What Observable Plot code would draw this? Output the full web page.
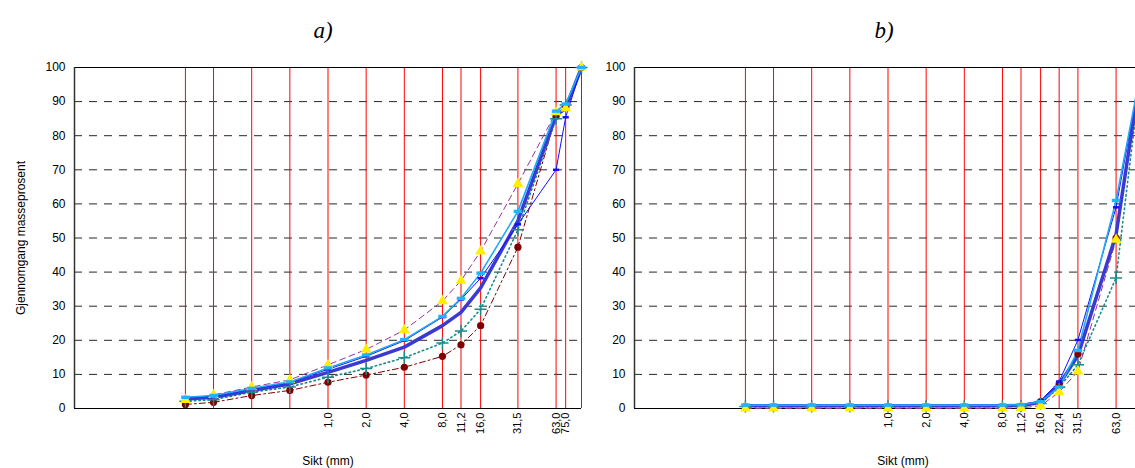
<!DOCTYPE html>
<html><head><meta charset="utf-8">
<script src="https://cdn.jsdelivr.net/npm/d3@7"></script>
<script src="https://cdn.jsdelivr.net/npm/@observablehq/plot@0.6"></script>
<style>
html,body{margin:0;padding:0;background:#fff;overflow:hidden;width:1135px;height:468px;}
#root{position:relative;width:1135px;height:468px;overflow:hidden;}
.ttl{position:absolute;font-family:"Liberation Serif","Times New Roman",serif;font-style:italic;font-size:23px;transform:translateX(-50%);line-height:1;}
.panel{position:absolute;top:55px;width:600px;height:413px;}
.panel svg{max-width:none !important;}
</style></head><body><div id="root">
<div class="ttl" style="left:323px;top:19px">a)</div>
<div class="ttl" style="left:884px;top:19px">b)</div>
<div class="panel" id="pa" style="left:0px"></div>
<div class="panel" id="pb" style="left:560px"></div>
</div>
<script>
// ---- data ----
const sieveA = [0.075, 0.125, 0.25, 0.5, 1, 2, 4, 8, 11.2, 16, 31.5, 63, 75, 100];
const ticksA = [1, 2, 4, 8, 11.2, 16, 31.5, 63, 75];
const a_thick  = [2.8, 3.3, 5.3, 7.2, 10.6, 14.1, 18.0, 24.3, 28.2, 35.4, 55.0, 86.0, 88.0, 100];
const a_thin   = [3.2, 3.6, 5.7, 7.6, 11.5, 15.3, 19.9, 26.8, 32.0, 38.2, 54.0, 70.0, 85.4, 100];
const a_cyan   = [3.3, 3.8, 5.9, 7.8, 11.9, 15.7, 20.2, 27.0, 32.3, 39.7, 57.8, 87.2, 89.3, 100];
const a_yellow = [2.5, 4.0, 6.3, 8.4, 12.8, 17.3, 23.0, 31.5, 37.5, 46.1, 65.9, 86.9, 88.0, 100];
const a_teal   = [2.1, 2.6, 4.8, 6.3, 9.2, 11.7, 14.9, 19.2, 22.7, 29.1, 52.4, 85.0, 89.0, 100];
const a_red    = [1.2, 1.8, 3.8, 5.3, 7.7, 9.8, 12.1, 15.3, 18.7, 24.3, 47.3, 85.7, 88.2, 100];

const sieveB = [0.075, 0.125, 0.25, 0.5, 1, 2, 4, 8, 11.2, 16, 22.4, 31.5, 63, 100];
const ticksB = [1, 2, 4, 8, 11.2, 16, 22.4, 31.5, 63];
const b_thick  = [0.8, 0.8, 0.8, 0.8, 0.8, 0.8, 0.8, 0.8, 0.9, 1.8, 7.0, 15.5, 51.0, 100];
const b_thin   = [1.0, 1.0, 1.0, 1.0, 1.0, 1.0, 1.0, 1.0, 1.1, 2.2, 7.9, 20.1, 59.0, 100];
const b_cyan   = [1.0, 1.0, 1.0, 1.0, 1.0, 1.0, 1.0, 1.0, 1.1, 2.0, 6.3, 17.0, 61.0, 100];
const b_yellow = [0.0, 0.0, 0.0, 0.0, 0.0, 0.0, 0.0, 0.0, 0.2, 0.8, 4.8, 10.9, 49.5, 100];
const b_teal   = [0.6, 0.6, 0.6, 0.6, 0.6, 0.6, 0.6, 0.6, 0.7, 1.5, 6.2, 12.8, 38.3, 100];
const b_red    = [0.5, 0.5, 0.5, 0.5, 0.5, 0.5, 0.5, 0.5, 0.7, 2.0, 7.2, 16.0, 50.0, 100];

const yTicks = [0, 10, 20, 30, 40, 50, 60, 70, 80, 90, 100];
const gridY = [10, 20, 30, 40, 50, 60, 70, 80, 90];

// ---- styles ----
const bar = {draw(ctx, size) { const w = Math.sqrt(size) * 1.6, h = w * 0.4; ctx.rect(-w/2, -h/2, w, h); }};
const styles = {
  red:    {line: {stroke: "#800000", strokeWidth: 1, strokeDasharray: "6,3,2,3"}, dot: {fill: "#800000", symbol: "circle", r: 3.6}},
  teal:   {line: {stroke: "#1a8c8c", strokeWidth: 1.6, strokeDasharray: "1.5,3"}, dot: {stroke: "#1a8c8c", symbol: "plus", r: 4, strokeWidth: 1.5}},
  yellow: {line: {stroke: "#993399", strokeWidth: 1, strokeDasharray: "6,4"}, dot: {fill: "#ffee00", symbol: "triangle", r: 4}},
  thick:  {line: {stroke: "#3a3ad2", strokeWidth: 3.5}, dot: null},
  thin:   {line: {stroke: "#1010ff", strokeWidth: 1}, dot: {fill: "#1010ff", symbol: bar, r: 2.2}},
  cyan:   {line: {stroke: "#1eaaf5", strokeWidth: 1.6}, dot: {fill: "#1eb4ff", symbol: bar, r: 3}}
};
const fmt = d => d.toFixed(1).replace(".", ",");

function panel(sieves, ticks, series, ylabel, labelDx) {
  const marks = [
    Plot.ruleY(gridY, {stroke: "#000", strokeWidth: 1, strokeDasharray: "8,7", strokeOpacity: 0.85}),
    Plot.ruleX(sieves, {stroke: "red", strokeWidth: 1}),
    Plot.ruleY([100], {stroke: "#000", strokeWidth: 1.2}),
    Plot.ruleY([0], {stroke: "#000", strokeWidth: 1.2}),
    Plot.ruleX([0.01], {stroke: "#333", strokeWidth: 1.5}),
    Plot.axisY({ticks: yTicks, tickSize: 0, tickPadding: 9, label: ylabel, labelArrow: "none", labelAnchor: "center", labelOffset: 58, fontSize: 12}),
    Plot.axisX({ticks: [], label: null}),
    Plot.text(ticks, {x: d => d, y: 0, text: fmt, rotate: -90, textAnchor: "end", lineAnchor: "middle", dy: 4, fontSize: 11}),
  ];
  for (const [key, values] of series) {
    const rows = values.map((v, i) => ({x: sieves[i], y: v}));
    marks.push(Plot.line(rows, {x: "x", y: "y", ...styles[key].line}));
  }
  for (const [key, values] of series) {
    if (!styles[key].dot) continue;
    const rows = values.map((v, i) => ({x: sieves[i], y: v}));
    marks.push(Plot.dot(rows, {x: "x", y: "y", ...styles[key].dot}));
  }
  marks.push(Plot.text(["Sikt (mm)"], {text: d => d, frameAnchor: "bottom", dy: 53, dx: labelDx, fontSize: 12, lineAnchor: "middle"}));
  return Plot.plot({
    width: 600, height: 413,
    marginLeft: 74, marginRight: 19, marginTop: 12, marginBottom: 60,
    x: {type: "log", domain: [0.01, 100]},
    y: {domain: [0, 100]},
    style: {fontFamily: "'Liberation Sans', Arial, sans-serif", fontSize: "11px", background: "transparent", overflow: "visible", color: "#000", maxWidth: "none"},
    marks
  });
}

const seriesA = [["red", a_red], ["teal", a_teal], ["yellow", a_yellow], ["thick", a_thick], ["thin", a_thin], ["cyan", a_cyan]];
const seriesB = [["red", b_red], ["teal", b_teal], ["yellow", b_yellow], ["thick", b_thick], ["thin", b_thin], ["cyan", b_cyan]];

document.getElementById("pa").appendChild(panel(sieveA, ticksA, seriesA, "Gjennomgang masseprosent", 0));
document.getElementById("pb").appendChild(panel(sieveB, ticksB, seriesB, null, 15));
</script>
</body></html>
